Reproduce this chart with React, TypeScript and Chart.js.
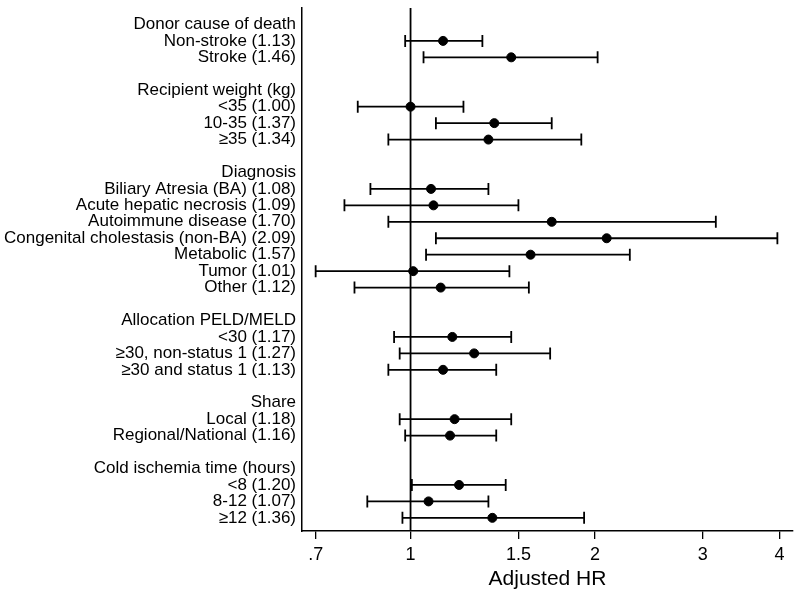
import React, { useEffect, useRef } from "react";
import { Chart, registerables } from "chart.js";

Chart.register(...registerables);

const rowLabels: string[] = [
  "Donor cause of death",
  "Non-stroke (1.13)",
  "Stroke (1.46)",
  "",
  "Recipient weight (kg)",
  "<35 (1.00)",
  "10-35 (1.37)",
  "≥35 (1.34)",
  "",
  "Diagnosis",
  "Biliary Atresia (BA) (1.08)",
  "Acute hepatic necrosis (1.09)",
  "Autoimmune disease (1.70)",
  "Congenital cholestasis (non-BA) (2.09)",
  "Metabolic (1.57)",
  "Tumor (1.01)",
  "Other (1.12)",
  "",
  "Allocation PELD/MELD",
  "<30 (1.17)",
  "≥30, non-status 1 (1.27)",
  "≥30 and status 1 (1.13)",
  "",
  "Share",
  "Local (1.18)",
  "Regional/National (1.16)",
  "",
  "Cold ischemia time (hours)",
  "<8 (1.20)",
  "8-12 (1.07)",
  "≥12 (1.36)",
];

const hrValues: (number | null)[] = [
  null, 1.13, 1.46, null,
  null, 1.0, 1.37, 1.34, null,
  null, 1.08, 1.09, 1.7, 2.09, 1.57, 1.01, 1.12, null,
  null, 1.17, 1.27, 1.13, null,
  null, 1.18, 1.16, null,
  null, 1.2, 1.07, 1.36,
];

const ciLow: (number | null)[] = [
  null, 0.98, 1.05, null,
  null, 0.82, 1.1, 0.92, null,
  null, 0.86, 0.78, 0.92, 1.1, 1.06, 0.7, 0.81, null,
  null, 0.94, 0.96, 0.92, null,
  null, 0.96, 0.98, null,
  null, 1.005, 0.85, 0.97,
];

const ciHigh: (number | null)[] = [
  null, 1.31, 2.02, null,
  null, 1.22, 1.7, 1.9, null,
  null, 1.34, 1.5, 3.15, 3.97, 2.28, 1.45, 1.56, null,
  null, 1.46, 1.69, 1.38, null,
  null, 1.46, 1.38, null,
  null, 1.43, 1.34, 1.92,
];

const xTickValues = [0.7, 1, 1.5, 2, 3, 4];
const xTickLabels = [".7", "1", "1.5", "2", "3", "4"];
const referenceHR = 1;
const xTitle = "Adjusted HR";

const FONT = "'Liberation Sans', Arial, Helvetica, sans-serif";

const errorBarPlugin = {
  id: "forestBars",
  beforeDatasetsDraw(chart: any) {
    const { ctx, scales, chartArea } = chart;
    const xs = scales.x;
    const ys = scales.y;
    ctx.save();
    ctx.strokeStyle = "#000";
    ctx.lineWidth = 1.8;
    const rx = xs.getPixelForValue(referenceHR);
    ctx.beginPath();
    ctx.moveTo(rx, chartArea.top);
    ctx.lineTo(rx, chartArea.bottom);
    ctx.stroke();
    ctx.lineWidth = 1.8;
    const cap = 6;
    ciLow.forEach((lo, i) => {
      const hi = ciHigh[i];
      if (lo == null || hi == null) return;
      const y = ys.getPixelForValue(i);
      const x1 = xs.getPixelForValue(lo);
      const x2 = xs.getPixelForValue(hi);
      ctx.beginPath();
      ctx.moveTo(x1, y);
      ctx.lineTo(x2, y);
      ctx.moveTo(x1, y - cap);
      ctx.lineTo(x1, y + cap);
      ctx.moveTo(x2, y - cap);
      ctx.lineTo(x2, y + cap);
      ctx.stroke();
    });
    ctx.restore();
  },
};

export default function App() {
  const ref = useRef<HTMLCanvasElement | null>(null);
  useEffect(() => {
    if (!ref.current) return;
    const points = hrValues
      .map((v, i) => (v == null ? null : { x: v, y: i }))
      .filter((p) => p !== null) as { x: number; y: number }[];
    const chart = new Chart(ref.current, {
      type: "scatter",
      data: {
        datasets: [
          {
            data: points,
            backgroundColor: "#000",
            borderColor: "#000",
            pointRadius: 4.5,
            pointHoverRadius: 4.5,
          },
        ],
      },
      options: {
        animation: false,
        responsive: false,
        maintainAspectRatio: false,
        layout: { padding: { top: 8, right: 7, bottom: 4, left: 0 } },
        plugins: {
          legend: { display: false },
          tooltip: { enabled: false },
        },
        scales: {
          x: {
            type: "logarithmic",
            min: 0.665,
            max: 4.21,
            afterBuildTicks: (scale: any) => {
              scale.ticks = xTickValues.map((v) => ({ value: v }));
            },
            afterFit: (scale: any) => {
              scale.height = 61;
              scale.paddingLeft = 0;
              scale.paddingRight = 0;
            },
            ticks: {
              autoSkip: false,
              maxRotation: 0,
              color: "#000",
              padding: 5,
              font: { family: FONT, size: 18 },
              callback: (value: any) => {
                const idx = xTickValues.indexOf(Number(value));
                return idx >= 0 ? xTickLabels[idx] : "";
              },
            },
            grid: {
              drawOnChartArea: false,
              drawTicks: true,
              tickLength: 8,
              color: "#000",
              lineWidth: 1.3,
            },
            border: { display: true, color: "#000", width: 1.5 },
            title: {
              display: true,
              text: xTitle,
              color: "#000",
              font: { family: FONT, size: 21 },
              padding: { top: 0, bottom: 0 },
            },
          },
          y: {
            type: "linear",
            reverse: true,
            min: -1,
            max: 30.8,
            afterBuildTicks: (scale: any) => {
              scale.ticks = rowLabels.map((_, i) => ({ value: i }));
            },
            afterFit: (scale: any) => {
              scale.width = 302;
              scale.paddingTop = 0;
              scale.paddingBottom = 0;
            },
            ticks: {
              autoSkip: false,
              color: "#000",
              padding: 6,
              font: { family: FONT, size: 17 },
              callback: (value: any) => rowLabels[Number(value)] ?? "",
            },
            grid: { display: false, drawTicks: false },
            border: { display: true, color: "#000", width: 1.5 },
          },
        },
      },
      plugins: [errorBarPlugin],
    });
    return () => chart.destroy();
  }, []);
  return (
    <div style={{ position: "absolute", left: 0, top: 0, width: 800, height: 596, background: "#fff" }}>
      <canvas ref={ref} width={800} height={596} style={{ width: 800, height: 596 }} />
    </div>
  );
}
